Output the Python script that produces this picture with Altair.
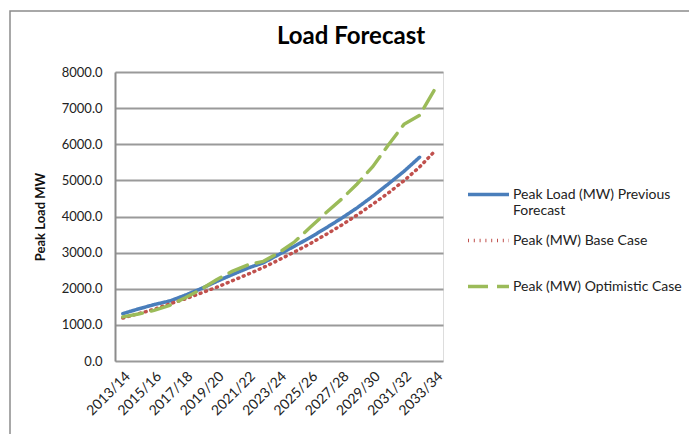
import altair as alt
import pandas as pd

years = ["2013/14", "2014/15", "2015/16", "2016/17", "2017/18", "2018/19", "2019/20",
         "2020/21", "2021/22", "2022/23", "2023/24", "2024/25", "2025/26", "2026/27",
         "2027/28", "2028/29", "2029/30", "2030/31", "2031/32", "2032/33", "2033/34"]
tick_years = years[::2]

series_names = ["Peak Load (MW) Previous Forecast", "Peak (MW) Base Case", "Peak (MW) Optimistic Case"]

previous = [1310, 1440, 1560, 1660, 1820, 2000, 2200, 2390, 2570, 2720, 2950, 3180,
            3420, 3680, 3950, 4240, 4560, 4900, 5250, 5640, None]
base = [1190, 1310, 1430, 1580, 1720, 1880, 2040, 2220, 2400, 2590, 2800, 3020,
        3250, 3500, 3760, 4040, 4340, 4650, 4990, 5370, 5820]
optimistic = [1220, 1300, 1400, 1540, 1750, 1980, 2250, 2480, 2660, 2760, 3000, 3300,
              3700, 4100, 4480, 4900, 5380, 5980, 6550, 6800, 7540]

rows = []
for name, vals in zip(series_names, [previous, base, optimistic]):
    for y, v in zip(years, vals):
        if v is not None:
            rows.append({"year": y, "series": name, "value": v})
df = pd.DataFrame(rows)

FONT = "Lato"

label_expr = ("datum.label == 'Peak Load (MW) Previous Forecast' ? "
              "['Peak Load (MW) Previous', 'Forecast'] : "
              "(datum.label == 'Peak (MW) Base Case' ? ['Peak (MW) Base Case', ''] : datum.label)")

lines = alt.Chart(df).mark_line(strokeCap="round").encode(
    x=alt.X("year:O", sort=years, scale=alt.Scale(domain=years),
            axis=alt.Axis(values=tick_years, title=None, labelAngle=-45, ticks=False,
                          domain=False, labelPadding=8, labelFontSize=14,
                          labelColor="#222", labelFont=FONT, grid=False)),
    y=alt.Y("value:Q", scale=alt.Scale(domain=[0, 8000], nice=False),
            axis=alt.Axis(values=list(range(0, 8001, 1000)), format=".1f",
                          title="Peak Load MW", titleFont=FONT, titleFontSize=13,
                          titleFontWeight="bold", titleColor="#111", titlePadding=14,
                          labelFont=FONT, labelFontSize=13, labelColor="#222",
                          labelPadding=13, ticks=False, domainColor="#8c8c8c",
                          domainWidth=2, gridColor="#9a9a9a", gridWidth=2)),
    color=alt.Color("series:N", sort=series_names,
                    scale=alt.Scale(domain=series_names, range=["#4A7EBB", "#C0504D", "#9BBB59"]),
                    legend=alt.Legend(orient="none", legendX=351, legendY=100, title=None,
                                      symbolType="M-1,0H1", symbolSize=1681, symbolStrokeWidth=3.5,
                                      labelFont=FONT, labelFontSize=14, labelColor="#222",
                                      labelLimit=300, rowPadding=0, padding=0, labelOffset=2,
                                      labelExpr=label_expr)),
    strokeDash=alt.StrokeDash("series:N", sort=series_names,
                              scale=alt.Scale(domain=series_names, range=[[1, 0], [1, 4.8], [20, 9]]),
                              legend=None),
    strokeWidth=alt.StrokeWidth("series:N", sort=series_names,
                                scale=alt.Scale(domain=series_names, range=[3.5, 3.4, 3.5]),
                                legend=None),
)

frame = alt.Chart(pd.DataFrame({"a": [0]})).mark_rect(fill=None, stroke="#8c8c8c", strokeWidth=1.5).encode(
    x=alt.value(-105), x2=alt.value(590), y=alt.value(-61), y2=alt.value(380)
)

chart = alt.layer(frame, lines).properties(
    width=328, height=289,
    title=alt.TitleParams("Load Forecast", font=FONT, fontSize=24, fontWeight="bold",
                          color="#000", anchor="middle", frame="group", dx=72,
                          offset=0, dy=58, baseline="alphabetic"),
    autosize=alt.AutoSizeParams(type="none"),
    padding={"left": 115, "top": 72, "right": 246, "bottom": 73},
).configure_view(stroke=None).configure(background="white")

chart.save("out.html", embed_options={"renderer": "svg", "actions": False})
